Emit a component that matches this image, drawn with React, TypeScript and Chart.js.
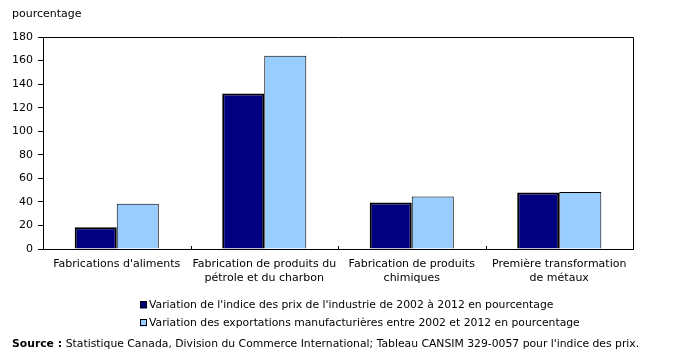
import { useEffect, useRef } from "react";
import { Chart, registerables } from "chart.js";

Chart.register(...registerables);

// Industries (multi-line labels)
const categories: string[][] = [
  ["Fabrications d'aliments"],
  ["Fabrication de produits du", "pétrole et du charbon"],
  ["Fabrication de produits", "chimiques"],
  ["Première transformation", "de métaux"],
];

// Percentage change, 2002 to 2012
const priceIndexChange = [18.5, 132, 39.5, 48];
const exportChange = [38.5, 164, 44.5, 48.5];

const seriesLabels = [
  "Variation de l'indice des prix de l'industrie de 2002 à 2012 en pourcentage",
  "Variation des exportations manufacturières entre 2002 et 2012 en pourcentage",
];
const seriesColors = ["#000080", "#99ccff"];

const yMin = 0;
const yMax = 180;
const yStep = 20;
const yTitle = "pourcentage";
const sourceLabel = "Source :";
const sourceText =
  "Statistique Canada, Division du Commerce International; Tableau CANSIM 329-0057 pour l'indice des prix.";

const WIDTH = 676;
const HEIGHT = 362;
const FAMILY = "'DejaVu Sans'";
const NOTE_SIZE = 10.8;

const decorations = {
  id: "decorations",
  afterDraw(chart: Chart) {
    const { ctx, chartArea } = chart;
    const { left, right, top, bottom } = chartArea;
    const xScale: any = chart.scales.x;
    ctx.save();

    // frame around the plot
    ctx.strokeStyle = "#000";
    ctx.lineWidth = 1;
    ctx.beginPath();
    ctx.moveTo(left + 0.5, bottom + 0.5);
    ctx.lineTo(left + 0.5, top + 0.5);
    ctx.lineTo(Math.round(right) + 0.5, top + 0.5);
    ctx.lineTo(Math.round(right) + 0.5, bottom + 0.5);
    ctx.stroke();

    // short inward ticks between categories
    ctx.beginPath();
    for (let i = 0; i < categories.length - 1; i++) {
      const x = Math.round(
        (xScale.getPixelForValue(i) + xScale.getPixelForValue(i + 1)) / 2
      );
      ctx.moveTo(x + 0.5, bottom);
      ctx.lineTo(x + 0.5, bottom - 3);
    }
    ctx.stroke();

    // axis title
    ctx.fillStyle = "#000";
    ctx.font = `11px ${FAMILY}`;
    ctx.textBaseline = "middle";
    ctx.textAlign = "left";
    ctx.fillText(yTitle, 12, 14);

    // legend
    ctx.font = `${NOTE_SIZE}px ${FAMILY}`;
    const legendX = 140;
    const rowsY = [305, 323];
    seriesLabels.forEach((label, i) => {
      const y = rowsY[i];
      ctx.fillStyle = seriesColors[i];
      ctx.fillRect(legendX, y - 3.5, 7, 7);
      ctx.strokeStyle = "#000";
      ctx.lineWidth = 1;
      ctx.strokeRect(legendX + 0.5, y - 3.5, 6, 6);
      ctx.fillStyle = "#000";
      ctx.fillText(label, legendX + 9, y);
    });

    // source note
    const sy = 344;
    ctx.font = `bold ${NOTE_SIZE}px ${FAMILY}`;
    ctx.fillText(sourceLabel, 12, sy);
    const w = ctx.measureText(sourceLabel + " ").width;
    ctx.font = `${NOTE_SIZE}px ${FAMILY}`;
    ctx.fillText(sourceText, 12 + w, sy);

    ctx.restore();
  },
};

export default function App() {
  const canvasRef = useRef<HTMLCanvasElement | null>(null);

  useEffect(() => {
    if (!canvasRef.current) return;
    const chart = new Chart(canvasRef.current, {
      type: "bar",
      data: {
        labels: categories,
        datasets: [
          {
            label: seriesLabels[0],
            data: priceIndexChange,
            backgroundColor: seriesColors[0],
            borderColor: "#000",
            borderWidth: 2,
            categoryPercentage: 0.57,
            barPercentage: 1,
          },
          {
            label: seriesLabels[1],
            data: exportChange,
            backgroundColor: seriesColors[1],
            borderColor: "#000",
            borderWidth: 1,
            categoryPercentage: 0.57,
            barPercentage: 1,
          },
        ],
      },
      options: {
        responsive: false,
        animation: false,
        layout: { padding: { left: 0, top: 37, right: 43, bottom: 0 } },
        plugins: {
          legend: { display: false },
          tooltip: { enabled: false },
        },
        scales: {
          x: {
            grid: { display: false, drawTicks: false },
            border: { display: true, color: "#000", width: 1 },
            ticks: {
              color: "#000",
              font: { family: FAMILY, size: 11 },
              padding: 9,
              maxRotation: 0,
              autoSkip: false,
            },
            afterFit(scale: any) {
              scale.height = 113;
            },
          },
          y: {
            min: yMin,
            max: yMax,
            ticks: {
              stepSize: yStep,
              color: "#000",
              font: { family: FAMILY, size: 11 },
              padding: 5,
            },
            grid: {
              drawOnChartArea: false,
              drawTicks: true,
              tickLength: 5,
              color: "#000",
            },
            border: { display: true, color: "#000", width: 1 },
            afterFit(scale: any) {
              scale.width = 43;
            },
          },
        },
      },
      plugins: [decorations],
    });
    return () => chart.destroy();
  }, []);

  return (
    <div style={{ position: "fixed", left: 0, top: 0, width: WIDTH, height: HEIGHT, background: "#fff" }}>
      <canvas ref={canvasRef} width={WIDTH} height={HEIGHT} />
    </div>
  );
}
